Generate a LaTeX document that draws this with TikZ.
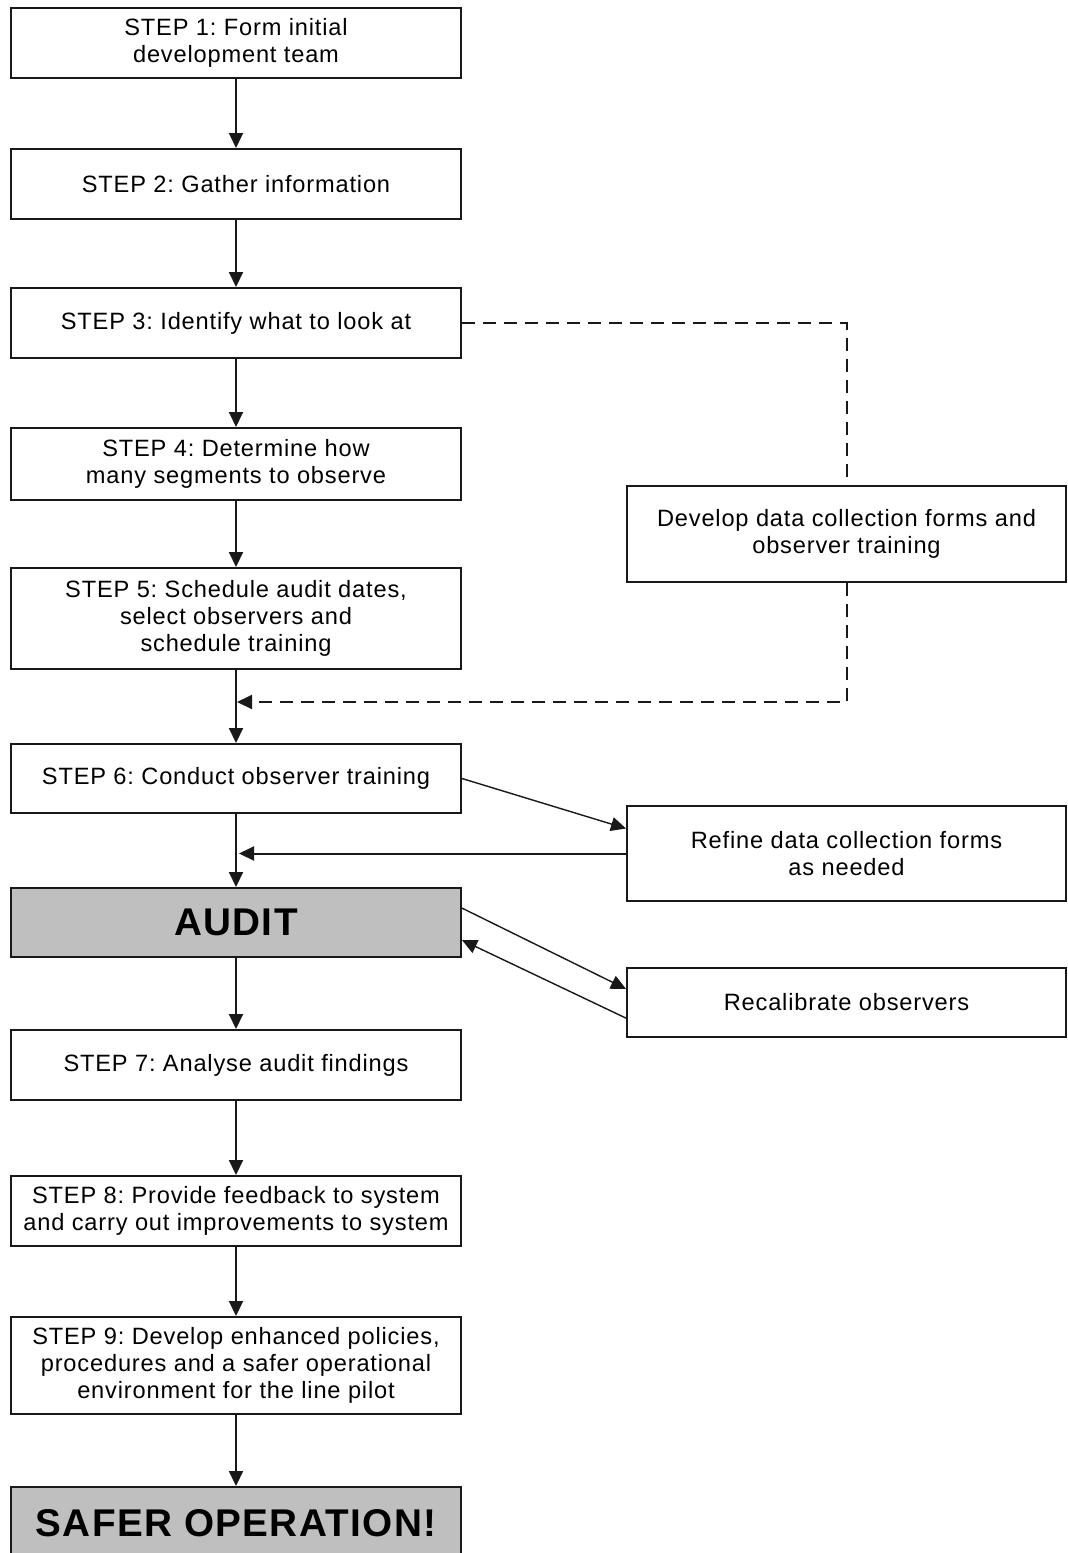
\documentclass[tikz,border=0pt]{standalone}
\usepackage{fontspec}
\setmainfont{Liberation Sans}[LetterSpace=3.5]
\usetikzlibrary{arrows.meta,positioning}
\frenchspacing

\begin{document}
\begin{tikzpicture}
  [
    x=0.25mm, y=-0.25mm,
    Box/.style={rectangle, draw=black!90, fill=white, line width=0.5mm, minimum width=112.5mm, align=center, inner sep=0pt, font=\fontsize{16.8}{19.4}\selectfont},
    Gray/.style={Box, fill=black!25, font=\fontsize{27.5}{32}\selectfont\bfseries},
    Side/.style={Box, minimum width=109.75mm},
    Flow/.style={-{Triangle[length=3.75mm, width=3.5mm]}, line width=0.5mm, draw=black!90},
    Thin/.style={-{Triangle[length=3.75mm, width=3.5mm]}, line width=0.35mm, draw=black!90},
    Dash/.style={line width=0.5mm, draw=black!90, dash pattern=on 3.25mm off 2mm}
  ]
  \clip (0,0) rectangle (1067,1553);
  % Nodes
  \node[Box, minimum height=17.5mm] (s1) at (236,43) {STEP 1: Form initial\\development team};
  \node[Box, minimum height=17.5mm] (s2) at (236,184) {STEP 2: Gather information};
  \node[Box, minimum height=17.5mm] (s3) at (236,323) {STEP 3: Identify what to look at};
  \node[Box, minimum height=18mm] (s4) at (236,464) {STEP 4: Determine how\\many segments to observe};
  \node[Box, minimum height=25.25mm] (s5) at (236,618.5) {STEP 5: Schedule audit dates,\\select observers and\\schedule training};
  \node[Box, minimum height=17.25mm] (s6) at (236,778.5) {STEP 6: Conduct observer training};
  \node[Gray, minimum height=17.25mm] (au) at (236,922.5) {AUDIT};
  \node[Box, minimum height=17.5mm] (s7) at (236,1065) {STEP 7: Analyse audit findings};
  \node[Box, minimum height=17.5mm] (s8) at (236,1211) {STEP 8: Provide feedback to system\\and carry out improvements to system};
  \node[Box, minimum height=24.25mm] (s9) at (236,1365.5) {STEP 9: Develop enhanced policies,\\procedures and a safer operational\\environment for the line pilot};
  \node[Gray, minimum height=18.25mm] (sf) at (236,1523.5) {SAFER OPERATION!};

  \node[Side, minimum height=24mm] (dev) at (846.5,534) {Develop data collection forms and\\observer training};
  \node[Side, minimum height=23.75mm] (ref) at (846.5,853.5) {Refine data collection forms\\as needed};
  \node[Side, minimum height=17.25mm] (rec) at (846.5,1002.5) {Recalibrate observers};

  \coordinate (j1) at (237,702);
  \coordinate (j2) at ([xshift=0.75mm]ref.west -| s6.south);

  % Lines
  \path [Flow] (s1) -- (s2);
  \path [Flow] (s2) -- (s3);
  \path [Flow] (s3) -- (s4);
  \path [Flow] (s4) -- (s5);
  \path [Flow] (s5) -- (s6);
  \path [Flow] (s6) -- (au);
  \path [Flow] (au) -- (s7);
  \path [Flow] (s7) -- (s8);
  \path [Flow] (s8) -- (s9);
  \path [Flow] (s9) -- (sf);

  \path [Dash] (s3.east) -| (dev.north);
  \path [Dash, -{Triangle[length=3.75mm, width=3.5mm]}] (dev.south) |- (j1);

  \path [Thin] (s6.east) -- ([yshift=6.25mm]ref.west);
  \path [Flow] (ref.west) -- (j2);
  \path [Thin] ([yshift=3.6mm]au.east) -- ([yshift=3.4mm]rec.west);
  \path [Thin] ([yshift=-3.9mm]rec.west) -- ([yshift=-4.4mm]au.east);

\end{tikzpicture}
\end{document}
